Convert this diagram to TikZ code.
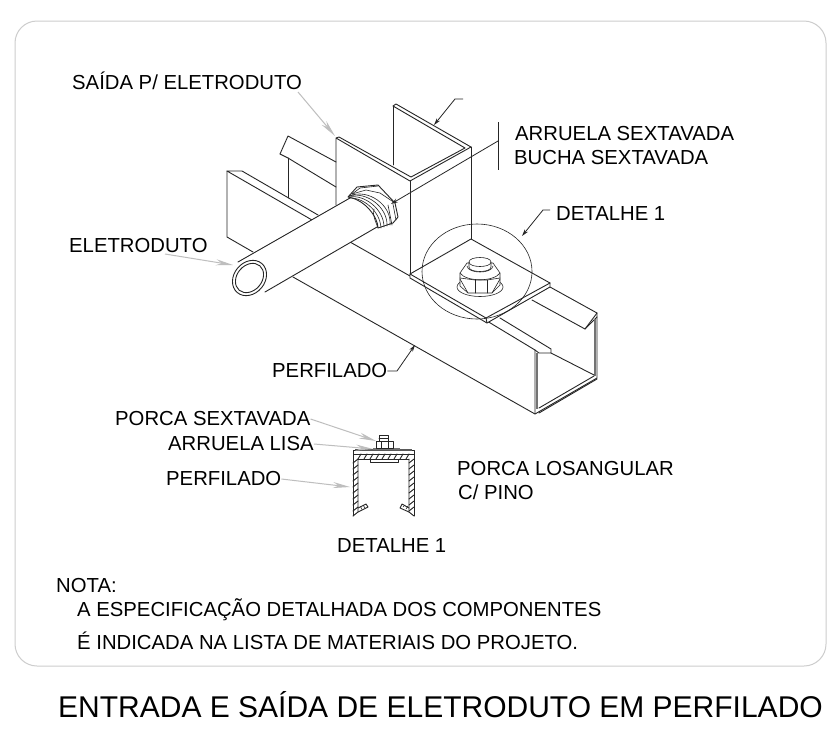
\documentclass[tikz,border=0pt]{standalone}
\usepackage{fontspec}
\setmainfont{Liberation Sans}
\usetikzlibrary{arrows.meta}
\definecolor{leadgrey}{RGB}{190,190,190}
\definecolor{framegrey}{RGB}{205,205,205}
\tikzset{
 x=1pt,y=-1pt,
 lbl/.style={anchor=west,inner sep=0pt,font=\fontsize{20.3}{22}\selectfont},
 line/.style={draw=black!85,line width=0.9pt,line join=round,line cap=round},
 thin line/.style={draw=black!85,line width=0.6pt,line join=round,line cap=round},
 heavy/.style={draw=black!55,line width=1.8pt},
 leader/.style={draw=black!85,line width=0.8pt,-{Stealth[length=7pt,width=4pt]}},
 gleader/.style={draw=leadgrey,line width=1pt,-{Stealth[length=17pt,width=6pt]}},
}
\begin{document}
\begin{tikzpicture}
\useasboundingbox (0,0) rectangle (837,734);
\fill[white] (0,0) rectangle (837,734);
\draw[framegrey,line width=1pt,rounded corners=22pt] (15,21) rectangle (826,666);

% --- back flange
\draw[line] (280,154)--(288,136)--(336,162);
\draw[line] (280,154)--(288,158)--(336,187);
\draw[line] (288,158)--(288,198);
% --- near flange of the tray
\draw[line] (318,215)--(242,171)--(227,171)--(312,220);
\draw[line] (227,171)--(227,237)--(253,252);
\draw[line] (293,277)--(535,414)--(597,378)--(597,313);
\draw[line] (350,242)--(410,276);
% --- box riser
\draw[line] (336,205)--(336,138)--(339,137)--(411,177)--(465,148)--(393,106)--(396,104)--(471,147)--(410,181)--(336,138);
\draw[line] (393,106)--(393,165);
\draw[line] (410,181)--(410,274);
\draw[line] (471,147)--(471,239);
% --- tray lips
\draw[line] (550,287)--(597,313)--(585,329)--(532,300);
\draw[line] (585,329)--(597,317);
\draw[line] (487,321)--(535,350)--(535,414);
\draw[line] (500,318)--(551,349)--(551,353)--(539,353)--(535,350);
\draw[heavy] (537,353)--(537,409);
\draw[heavy] (595,319)--(595,376);
\draw[line] (539,408)--(594,376);
\draw[line] (539,413)--(597,379);
\draw[line] (551,353)--(594,375);
% --- flat plate
\draw[line,fill=white] (410,274)--(471,239)--(550,283)--(550,287)--(487,323)--(410,278)--cycle;
\draw[line] (410,274)--(486,318)--(550,283);
\draw[line] (486,318)--(487,323);
% --- conduit
\fill[white] (238,262)--(350,198)--(377,227)--(265,292)--cycle;
\draw[line] (238,262)--(350,198);
\draw[line] (265,292)--(377,227);
\draw[line,fill=white,rotate around={50:(249.5,278)}] (249.5,278) ellipse [x radius=19,y radius=15.5];
\draw[line,rotate around={50:(249.5,278)}] (249.5,278) ellipse [x radius=16,y radius=12.5];
% --- nut on conduit
\draw[line,fill=white] (348,197)--(357,187)--(378,185)--(395,203)--(398,217)--(393,223)--(378,228) .. controls (378,218) and (366,200) .. (348,197);
\draw[thin line] (352,194)--(360,188)--(378,186);
\draw[thin line] (352,194)--(366,190)--(380,193)--(395,203);
\draw[thin line] (349,196) .. controls (368,188) and (392,205) .. (390,225);
\draw[thin line] (349,196) .. controls (366,191) and (388,207) .. (387,226);
\draw[thin line] (349,197) .. controls (364,194) and (384,209) .. (384,227);
\draw[thin line] (349,198) .. controls (362,197) and (380,210) .. (381,228);
\draw[thin line] (374,209) .. controls (372,215) and (376,222) .. (378,228);
\draw[thin line] (388,205)--(392,225);
\draw[thin line] (393,204)--(396,220);
% --- hex bolt on plate
\draw[thin line,fill=white] (480,287) ellipse [x radius=23,y radius=9.5];
\draw[thin line,fill=white] (460,286)--(460,273)--(467,263)--(493,263)--(500,273)--(500,285)--(492,293)--(468,293)--cycle;
\draw[thin line] (460,278)--(475,280)--(487,280)--(500,278);
\draw[thin line] (460,273) .. controls (466,282) and (494,282) .. (500,273);
\draw[thin line] (475,280)--(475,293);
\draw[thin line] (487,280)--(487,293);
\draw[thin line] (460,279)--(468,293);
\draw[thin line] (500,279)--(492,293);
\draw[thin line,fill=white] (469,262) .. controls (469,256) and (491,256) .. (491,262)--(491,267) .. controls (491,273) and (469,273) .. (469,267)--cycle;
\draw[thin line] (469,262) .. controls (469,268) and (491,268) .. (491,262);
\draw[thin line] (467,266) .. controls (468,274) and (492,274) .. (493,266);
% --- detail circle
\draw[thin line] (477,271.5) ellipse [x radius=55,y radius=47.5];

% --- labels of the isometric view
\node[lbl] (saida) at (72,81) {SAÍDA P/ ELETRODUTO};
\node[lbl] (arruela) at (515,134) {ARRUELA SEXTAVADA};
\node[lbl] (bucha) at (514,158) {BUCHA SEXTAVADA};
\node[lbl] (det) at (556,214) {DETALHE 1};
\node[lbl] (elet) at (69,246) {ELETRODUTO};
\node[lbl] (perf) at (272,371) {PERFILADO};
\coordinate (saidaA) at (298,92);
\coordinate (saidaB) at (335,136);
\coordinate (eletA) at (165,254);
\coordinate (eletB) at (233,265);
\coordinate (topA) at (463,99);
\coordinate (topB) at (455,99);
\coordinate (topC) at (434,125);
\coordinate (brkT) at (498,122);
\coordinate (brkB) at (498,170);
\coordinate (brkM) at (498,141);
\coordinate (nutP) at (391,204);
\coordinate (detA) at (550,210);
\coordinate (detB) at (543,210);
\coordinate (detC) at (522,236);
\coordinate (perB) at (397,371);
\coordinate (perC) at (415,345);
\draw[gleader] (saidaA)--(saidaB);
\draw[gleader] (eletA)--(eletB);
\draw[leader] (topA)--(topB)--(topC);
\draw[line width=0.7pt,black!85] (brkT)--(brkB);
\draw[leader] (brkM)--(nutP);
\draw[leader] (detA)--(detB)--(detC);
\draw[leader] (perf.east)--(perB)--(perC);

% --- section detail
\draw[line] (353,450) rectangle (414,454);
\fill[black!65] (355,449) rectangle (412,450.5);
\fill[black!55] (373,447.5) rectangle (400,450);
\draw[line,fill=white] (376,441) rectangle (393,448);
\draw[thin line] (381,441)--(381,448) (388,441)--(388,448);
\draw[line,fill=white] (379,435) rectangle (388,441);
\draw[thin line] (379,438)--(388,438);
\draw[line] (370,459) rectangle (398,462);
\draw[line] (353,454)--(353,516);
\draw[line] (414,454)--(414,516);
\draw[line] (358,459)--(358,512)--(353,516);
\draw[line] (409,459)--(409,512)--(414,516);
\draw[line] (358,459)--(409,459);
\foreach \i in {0,...,8}{ \draw[line] ({358+6*\i},459)--({361+6*\i},454); }
\foreach \i in {0,...,8}{
 \draw[line] (353,{463+6*\i})--(358,{459+6*\i});
 \draw[line] (409,{463+6*\i})--(414,{459+6*\i});
}
\draw[line] (358,512)--(368,507)--(366,504)--(358,508);
\draw[line] (409,512)--(400,508)--(402,504)--(409,508);
\draw[thin line] (362,509.5)--(360.5,506.5) (365,508)--(363,505);
\draw[thin line] (403,507)--(405,505) (406,509)--(408,506);

\node[lbl] (porca) at (115,419) {PORCA SEXTAVADA};
\node[lbl] (arl) at (168,444) {ARRUELA LISA};
\node[lbl] (perd) at (166,479) {PERFILADO};
\node[lbl] (los1) at (457,469) {PORCA LOSANGULAR};
\node[lbl] (los2) at (458,492) {C/ PINO};
\node[lbl] (det1) at (337,546) {DETALHE 1};
\coordinate (porB) at (376,441);
\coordinate (arB) at (373,449);
\coordinate (perdB) at (350,487);
\draw[gleader] (porca.east)--(porB);
\draw[gleader] (arl.east)--(arB);
\draw[gleader] (perd.east)--(perdB);

% --- notes and title
\node[lbl] (nota) at (56,586) {NOTA:};
\node[lbl] (n1) at (77,610) {A ESPECIFICAÇÃO DETALHADA DOS COMPONENTES};
\node[lbl] (n2) at (77,641) {É INDICADA NA LISTA DE MATERIAIS DO PROJETO.};
\node[anchor=west,inner sep=0pt,font=\fontsize{30}{34}\selectfont] (title) at (58,705) {ENTRADA E SAÍDA DE ELETRODUTO EM PERFILADO};
\end{tikzpicture}
\end{document}
